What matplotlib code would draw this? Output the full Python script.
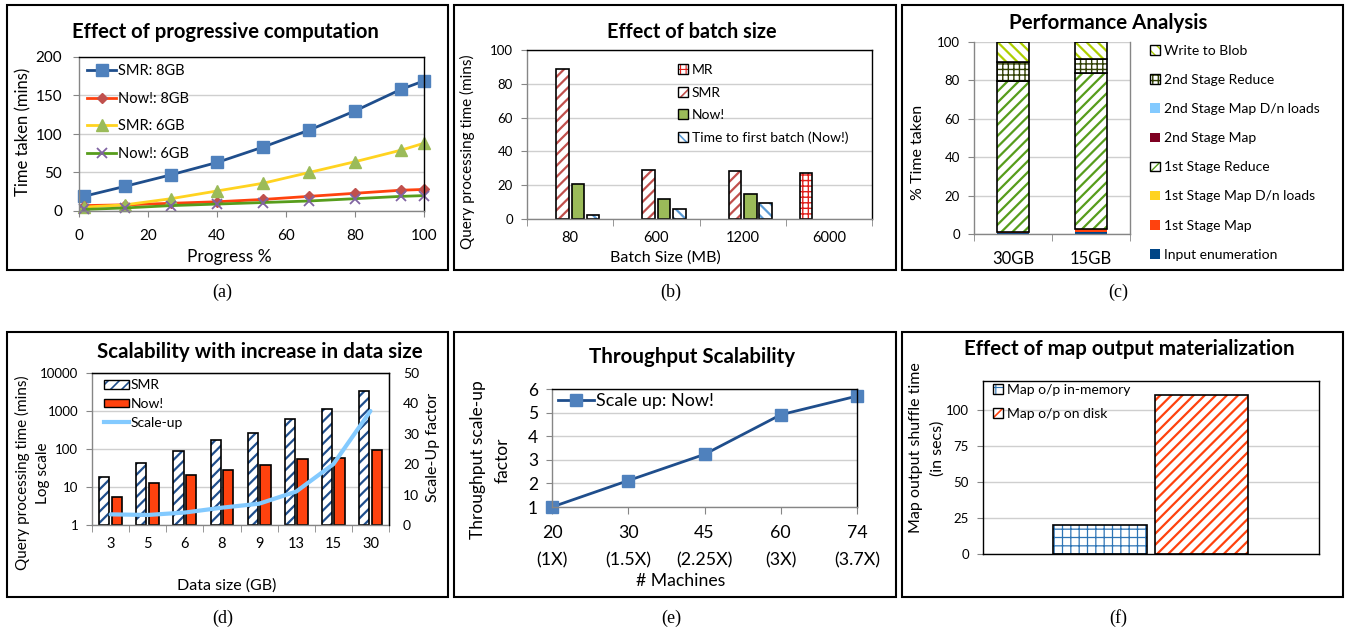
import numpy as np
import matplotlib
matplotlib.use('Agg')
import matplotlib.pyplot as plt
from matplotlib.patches import Patch, Rectangle
from matplotlib.lines import Line2D

plt.rcParams['font.family'] = ['Lato', 'DejaVu Sans']

# (a) progressive computation
progress = [1.33, 13.33, 26.67, 40, 53.33, 66.67, 80, 93.33, 100]
smr_8gb = [19, 32, 47, 63, 83, 105, 130, 158, 169]
now_8gb = [7, 8, 10, 12, 15, 19, 23, 27, 28]
smr_6gb = [5, 8, 16, 26, 36, 50, 64, 79, 88]
now_6gb = [2, 4, 7, 9, 11, 13, 16, 19, 20]

# (b) batch size
batch_sizes = ['80', '600', '1200', '6000']
batch_mr = [np.nan, np.nan, np.nan, 27]
batch_smr = [88.5, 29, 28.5, np.nan]
batch_now = [20.5, 12, 14.5, np.nan]
batch_first = [2.5, 6, 9.5, np.nan]

# (c) performance analysis (% of time)
perf_sizes = ['30GB', '15GB']
perf_stages = ['Input enumeration', '1st Stage Map', '1st Stage Map D/n loads',
               '1st Stage Reduce', '2nd Stage Map', '2nd Stage Map D/n loads',
               '2nd Stage Reduce', 'Write to Blob']
perf_30gb = [0.3, 0.7, 0.0, 78.6, 0.1, 0.0, 10.0, 10.3]
perf_15gb = [0.9, 1.6, 0.0, 81.4, 0.1, 0.0, 7.3, 8.7]

# (d) scalability with data size
data_sizes = ['3', '5', '6', '8', '9', '13', '15', '30']
scal_smr = [18, 42, 87, 168, 270, 615, 1150, 3450]
scal_now = [5.5, 13, 20.5, 28, 38, 55, 57, 95]
scale_up = [3.5, 3.3, 4.1, 5.7, 7.0, 11, 20, 37.5]

# (e) throughput scalability
machines = ['20\n(1X)', '30\n(1.5X)', '45\n(2.25X)', '60\n(3X)', '74\n(3.7X)']
throughput = [1.0, 2.12, 3.23, 4.91, 5.7]

# (f) map output materialization
shuffle_labels = ['Map o/p in-memory', 'Map o/p on disk']
shuffle_time = [20, 110]

W, H = 1347, 633
fig = plt.figure(figsize=(W / 100, H / 100), dpi=100)
GRAY = '#868686'
GRID = '#CFCFCF'


def add_ax(l, t, r, b):
    return fig.add_axes([l / W, 1 - b / H, (r - l) / W, (b - t) / H])


def ftext(x, y, s, **kw):
    kw.setdefault('ha', 'center')
    kw.setdefault('va', 'center')
    fig.text(x / W, 1 - y / H, s, **kw)


def frame(l, t, r, b):
    fig.add_artist(Rectangle((l / W, 1 - b / H), (r - l) / W, (b - t) / H,
                             transform=fig.transFigure, fill=False, ec='black', lw=1.5))


def style(ax, dark=('top', 'right'), size=9.5):
    for s in ['left', 'bottom', 'top', 'right']:
        ax.spines[s].set_color('black' if s in dark else GRAY)
        ax.spines[s].set_linewidth(1)
    ax.tick_params(colors=GRAY, labelcolor='black', length=4, labelsize=size, pad=6)
    ax.grid(axis='y', color=GRID, lw=1)
    ax.set_axisbelow(True)


def hbar(ax, x, h, w, color, hatch, hlw=1.6, bottom=0):
    bars = ax.bar(x, h, w, bottom=bottom, color='white', edgecolor=color, hatch=hatch, lw=0)
    for p in bars:
        p.set_hatch_linewidth(hlw)
    ax.bar(x, h, w, bottom=bottom, fill=False, edgecolor='black', lw=1.2)


def hhandle(color, hatch, hlw=1.2):
    p = Patch(facecolor='white', edgecolor=color, hatch=hatch, lw=0)
    p.set_hatch_linewidth(hlw)
    return (p, Patch(fill=False, edgecolor='black', lw=1))


def legend(ax, handles, labels, x, y, size=9.5, **kw):
    leg = ax.legend(handles, labels, loc='upper left', bbox_to_anchor=(x / W, 1 - y / H),
                    bbox_transform=fig.transFigure, frameon=False, fontsize=size,
                    borderpad=0, borderaxespad=0, **kw)
    # legend copies lose the hatch colour, put it back
    for art, hnd in zip(leg.legend_handles, handles):
        if isinstance(hnd, tuple):
            art.set_edgecolor(hnd[0].get_edgecolor())
            art.set_hatch_linewidth(hnd[0].get_hatch_linewidth())
            art.set_linewidth(0)
    return leg


# ---------- (a) ----------
frame(7, 5, 448, 270)
ax = add_ax(79, 57, 424, 211)
style(ax, size=11)
ax.plot(progress, smr_8gb, color='#1F4E8C', lw=2, marker='s', ms=8, mfc='#4F81BD', mec='#4F81BD', clip_on=False, label='SMR: 8GB')
ax.plot(progress, now_8gb, color='#FF420E', lw=2, marker='D', ms=5.5, mfc='#C0504D', mec='#C0504D', clip_on=False, label='Now!: 8GB')
ax.plot(progress, smr_6gb, color='#FFD320', lw=2, marker='^', ms=8, mfc='#9BBB59', mec='#9BBB59', clip_on=False, label='SMR: 6GB')
ax.plot(progress, now_6gb, color='#579D1C', lw=2, marker='x', ms=7, mew=1.3, mec='#8064A2', clip_on=False, label='Now!: 6GB')
ax.set_xlim(0, 100)
ax.set_ylim(0, 200)
ax.set_xticks([0, 20, 40, 60, 80, 100])
ax.set_yticks([0, 50, 100, 150, 200])
ax.tick_params(axis='x', pad=9)
ax.tick_params(axis='y', pad=8)
h, l = ax.get_legend_handles_labels()
legend(ax, h, l, 87, 64, size=10.5, handlelength=2.0, handletextpad=0.1, labelspacing=0.94)
ftext(225, 32, 'Effect of progressive computation', fontsize=14.6, fontweight='bold')
ftext(23, 132, 'Time taken (mins)', fontsize=12, rotation=90)
ftext(229, 257, 'Progress %', fontsize=12.5)
ftext(222, 292, '(a)', fontsize=13, family='Liberation Serif')

# ---------- (b) ----------
frame(454, 5, 896, 270)
ax = add_ax(527, 50, 872, 219)
style(ax, size=9.5)
xb = np.arange(len(batch_sizes))
step, bw = 0.178, 0.145
hbar(ax, xb - 1.5 * step, batch_mr, bw, '#E0201B', '+++', hlw=1.0)
hbar(ax, xb - 0.5 * step, batch_smr, bw, '#C0504D', '///')
ax.bar(xb + 0.5 * step, batch_now, bw, color='#9BBB59', edgecolor='black', lw=1.2)
hbar(ax, xb + 1.5 * step, batch_first, bw, '#5B9BD5', '\\\\\\')
ax.set_xlim(-0.5, 3.5)
ax.set_ylim(0, 100)
ax.set_yticks(range(0, 101, 20))
ax.set_xticks(xb, batch_sizes)
ax.set_xticks(np.arange(-0.5, 4, 1), minor=True)
ax.tick_params(axis='x', which='major', length=0, labelsize=10.5, pad=9)
ax.tick_params(axis='x', which='minor', length=5, colors=GRAY)
handles = [hhandle('#E0201B', '+++', 0.8), hhandle('#C0504D', '///'),
           Patch(facecolor='#9BBB59', edgecolor='black', lw=1), hhandle('#5B9BD5', '\\\\\\')]
legend(ax, handles, ['MR', 'SMR', 'Now!', 'Time to first batch (Now!)'], 678, 64,
       size=10, handlelength=0.7, handleheight=0.7, handletextpad=0.3, labelspacing=0.76)
ftext(692, 32, 'Effect of batch size', fontsize=14.3, fontweight='bold')
ftext(467, 152, 'Query processing time (mins)', fontsize=11, rotation=90)
ftext(665, 258, 'Batch Size (MB)', fontsize=11.5)
ftext(671, 292, '(b)', fontsize=13, family='Liberation Serif')

# ---------- (c) ----------
frame(902, 5, 1343, 270)
ax = add_ax(974, 42, 1130, 234)
style(ax, dark=(), size=9.5)
ax.spines['top'].set_visible(False)
xc = np.arange(len(perf_sizes))
stage_colors = ['#004586', '#FF420E', '#FFD320', '#579D1C', '#7E0021', '#83CAFF', '#314004', '#AECF00']
stage_hatch = [None, None, None, '///', None, None, '+++', '\\\\\\']
bottom = np.zeros(len(perf_sizes))
handles = []
for i, stage in enumerate(perf_stages):
    vals = np.array([perf_30gb[i], perf_15gb[i]])
    if stage_hatch[i]:
        hbar(ax, xc, vals, 0.4, stage_colors[i], stage_hatch[i], hlw=1.0 if stage_hatch[i] == '+++' else 1.6, bottom=bottom)
        handles.append(hhandle(stage_colors[i], stage_hatch[i], 1.0))
    else:
        ax.bar(xc, vals, 0.4, bottom=bottom, color=stage_colors[i], lw=0)
        handles.append(Patch(facecolor=stage_colors[i], lw=0))
    bottom = bottom + vals
ax.set_xlim(-0.5, 1.5)
ax.set_ylim(0, 100)
ax.set_yticks(range(0, 101, 20))
ax.set_xticks(xc, perf_sizes)
ax.set_xticks([-0.5, 0.5, 1.5], minor=True)
ax.tick_params(axis='x', which='major', length=0, labelsize=12, pad=12)
ax.tick_params(axis='x', which='minor', length=5, colors=GRAY)
legend(ax, handles[::-1], perf_stages[::-1], 1150, 45, size=10,
       handlelength=0.7, handleheight=0.7, handletextpad=0.3, labelspacing=1.23)
ftext(1108, 23, 'Performance Analysis', fontsize=14.8, fontweight='bold')
ftext(918, 152, '% Time taken', fontsize=11.5, rotation=90)
ftext(1118, 292, '(c)', fontsize=13, family='Liberation Serif')

# ---------- (d) ----------
frame(7, 332, 448, 597)
ax = add_ax(92, 373, 389, 525)
style(ax, size=9.5)
xd = np.arange(len(data_sizes))
hbar(ax, xd - 0.17, np.array(scal_smr) - 1, 0.27, '#1F4E8C', '///', bottom=1)
ax.bar(xd + 0.17, np.array(scal_now) - 1, 0.28, bottom=1, color='#FF420E', edgecolor='black', lw=1.2)
ax.set_yscale('log')
ax.set_ylim(1, 10000)
ax.set_yticks([1, 10, 100, 1000, 10000], ['1', '10', '100', '1000', '10000'])
ax.minorticks_off()
ax.set_xlim(-0.5, len(data_sizes) - 0.5)
ax.set_xticks(xd, data_sizes)
ax.set_xticks(np.arange(-0.5, len(data_sizes)), minor=True)
ax.tick_params(axis='x', which='major', length=0, labelsize=10.5, pad=9)
ax.tick_params(axis='x', which='minor', length=5, colors=GRAY)
ax2 = ax.twinx()
ax2.plot(xd, scale_up, color='#83CAFF', lw=3, solid_joinstyle='round', solid_capstyle='round')
ax2.set_ylim(0, 50)
ax2.set_yticks(range(0, 51, 10))
ax2.tick_params(colors=GRAY, labelcolor='black', length=0, labelsize=10, pad=10)
for s in ['top', 'right']:
    ax2.spines[s].set_color('black')
ax2.spines['left'].set_visible(False)
ax2.spines['bottom'].set_visible(False)
handles = [hhandle('#1F4E8C', '///'), Patch(facecolor='#FF420E', edgecolor='black', lw=1),
           Line2D([], [], color='#83CAFF', lw=3)]
legend(ax2, handles, ['SMR', 'Now!', 'Scale-up'], 104, 379, size=10,
       handlelength=1.8, handleheight=0.6, handletextpad=0.1, labelspacing=0.5)
ftext(260, 352, 'Scalability with increase in data size', fontsize=14.8, fontweight='bold')
ftext(32, 473, 'Query processing time (mins)\nLog scale', fontsize=11, rotation=90, linespacing=1.55)
ftext(433, 447, 'Scale-Up factor', fontsize=11.5, rotation=90)
ftext(227, 586, 'Data size (GB)', fontsize=11.5)
ftext(223, 618, '(d)', fontsize=13, family='Liberation Serif')

# ---------- (e) ----------
frame(454, 332, 896, 597)
ax = add_ax(552, 389, 857, 507)
style(ax, size=12.5)
xe = np.arange(len(machines))
ax.plot(xe, throughput, color='#1F4E8C', lw=2, marker='s', ms=8, mfc='#4F81BD', mec='#4F81BD',
        clip_on=False, label='Scale up: Now!')
ax.set_xlim(0, len(machines) - 1)
ax.set_ylim(1, 6)
ax.set_yticks(range(1, 7))
ax.set_xticks(xe, machines)
ax.tick_params(axis='x', length=5, labelsize=12.8, pad=8)
for t in ax.get_xticklabels():
    t.set_linespacing(1.85)
h, l = ax.get_legend_handles_labels()
legend(ax, h, l, 558, 393, size=13, handlelength=2.0, handletextpad=0.1)
ftext(692, 357, 'Throughput Scalability', fontsize=14.8, fontweight='bold')
ftext(490, 460, 'Throughput scale-up\nfactor', fontsize=12.5, rotation=90, linespacing=1.65)
ftext(681, 581, '# Machines', fontsize=12.7)
ftext(671, 618, '(e)', fontsize=13, family='Liberation Serif')

# ---------- (f) ----------
frame(902, 332, 1343, 597)
ax = add_ax(983, 381, 1319, 554)
style(ax, dark=('top', 'right', 'left', 'bottom'), size=9.5)
hbar(ax, [-0.151], [shuffle_time[0]], 0.279, '#2E75B6', '++', hlw=0.9)
hbar(ax, [0.150], [shuffle_time[1]], 0.279, '#FF420E', '///')
ax.set_xlim(-0.5, 0.5)
ax.set_ylim(0, 120)
ax.set_yticks([0, 25, 50, 75, 100])
ax.set_xticks([])
handles = [hhandle('#2E75B6', '++', 0.8), hhandle('#FF420E', '///')]
legend(ax, handles, shuffle_labels, 993, 384, size=10,
       handlelength=0.7, handleheight=0.7, handletextpad=0.3, labelspacing=0.85)
ftext(1129, 349, 'Effect of map output materialization', fontsize=14.8, fontweight='bold')
ftext(927, 448, 'Map output shuffle time\n(in secs)', fontsize=11.5, rotation=90, linespacing=1.6)
ftext(1118, 618, '(f)', fontsize=13, family='Liberation Serif')

fig.savefig('out.png', dpi=100)
